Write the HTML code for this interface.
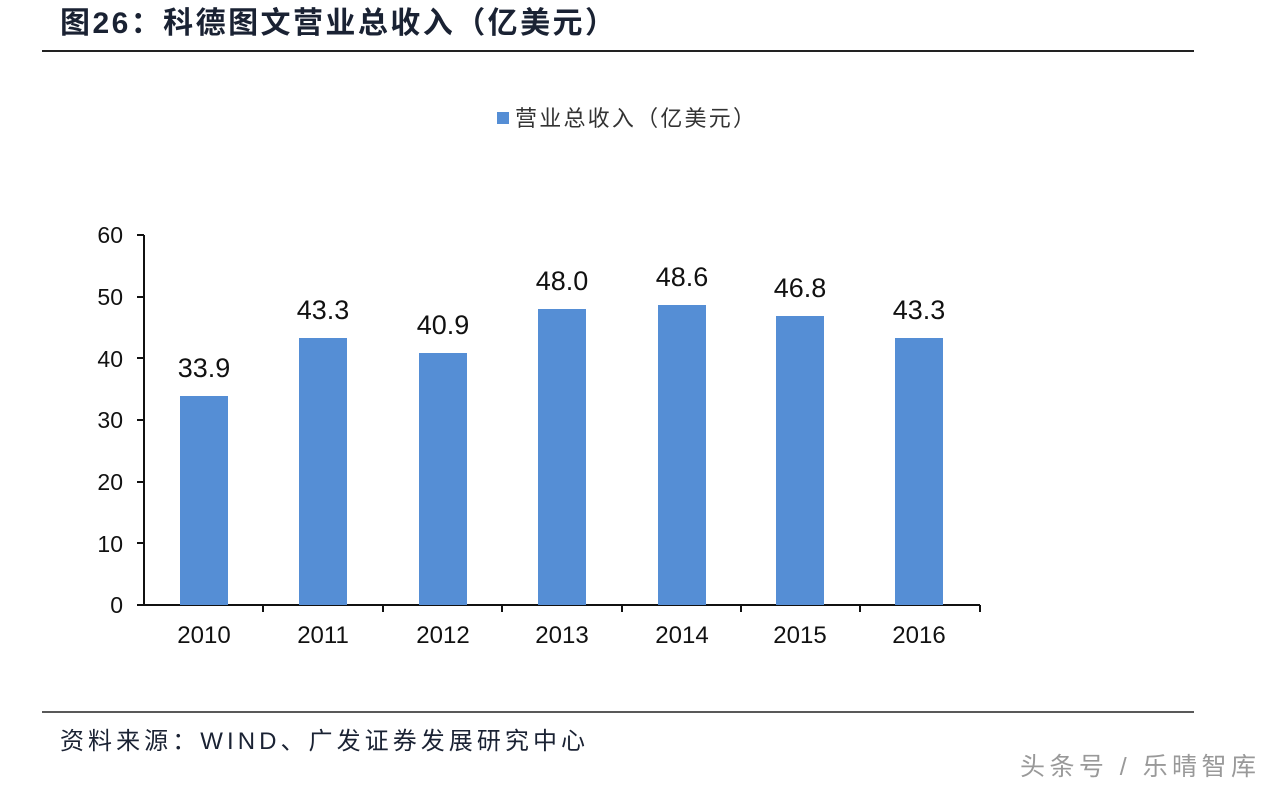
<!DOCTYPE html>
<html><head><meta charset="utf-8"><style>
body{margin:0;background:#fff;width:1274px;height:788px;overflow:hidden;}
svg{display:block}
</style></head><body>
<svg width="1274" height="788" xmlns="http://www.w3.org/2000/svg" font-family="Liberation Sans, Noto Sans CJK SC, sans-serif">
<text x="60" y="33" font-size="30" font-weight="bold" fill="#1a2233" textLength="555" lengthAdjust="spacing">图26：科德图文营业总收入（亿美元）</text>
<line x1="42" y1="51" x2="1194" y2="51" stroke="#222" stroke-width="2"/>
<rect x="497" y="112" width="12" height="12" fill="#558ed5"/>
<text x="515" y="126" font-size="22" fill="#333" textLength="240" lengthAdjust="spacing">营业总收入（亿美元）</text>
<g font-size="23" fill="#111" text-anchor="end">
<text x="123" y="243">60</text><text x="123" y="305">50</text><text x="123" y="367">40</text>
<text x="123" y="428">30</text><text x="123" y="490">20</text><text x="123" y="552">10</text><text x="123" y="613">0</text>
</g>
<g stroke="#111" stroke-width="2">
<line x1="144" y1="235" x2="144" y2="606"/>
<line x1="137" y1="235" x2="144" y2="235"/><line x1="137" y1="297" x2="144" y2="297"/>
<line x1="137" y1="358" x2="144" y2="358"/><line x1="137" y1="420" x2="144" y2="420"/>
<line x1="137" y1="482" x2="144" y2="482"/><line x1="137" y1="543" x2="144" y2="543"/>
<line x1="137" y1="605" x2="980" y2="605"/>
<line x1="263" y1="605" x2="263" y2="612"/><line x1="383" y1="605" x2="383" y2="612"/>
<line x1="502" y1="605" x2="502" y2="612"/><line x1="622" y1="605" x2="622" y2="612"/>
<line x1="741" y1="605" x2="741" y2="612"/><line x1="860" y1="605" x2="860" y2="612"/>
<line x1="980" y1="605" x2="980" y2="612"/>
</g>
<g fill="#558ed5">
<rect x="180" y="396" width="48" height="209"/>
<rect x="299" y="338" width="48" height="267"/>
<rect x="419" y="353" width="48" height="252"/>
<rect x="538" y="309" width="48" height="296"/>
<rect x="658" y="305" width="48" height="300"/>
<rect x="776" y="316" width="48" height="289"/>
<rect x="895" y="338" width="48" height="267"/>
</g>
<g font-size="27" fill="#111" text-anchor="middle">
<text x="204" y="377">33.9</text><text x="323" y="319">43.3</text><text x="443" y="334">40.9</text>
<text x="562" y="290">48.0</text><text x="682" y="286">48.6</text><text x="800" y="297">46.8</text>
<text x="919" y="319">43.3</text>
</g>
<g font-size="24" fill="#111" text-anchor="middle">
<text x="204" y="643">2010</text><text x="323" y="643">2011</text><text x="443" y="643">2012</text>
<text x="562" y="643">2013</text><text x="682" y="643">2014</text><text x="800" y="643">2015</text>
<text x="919" y="643">2016</text>
</g>
<line x1="42" y1="712" x2="1194" y2="712" stroke="#222" stroke-width="1.5"/>
<text x="60" y="749" font-size="24" fill="#1a2233" textLength="525" lengthAdjust="spacing">资料来源：WIND、广发证券发展研究中心</text>
<text x="1020" y="775" font-size="25" fill="#999" textLength="236" lengthAdjust="spacing">头条号 / 乐晴智库</text>
</svg>
</body></html>
